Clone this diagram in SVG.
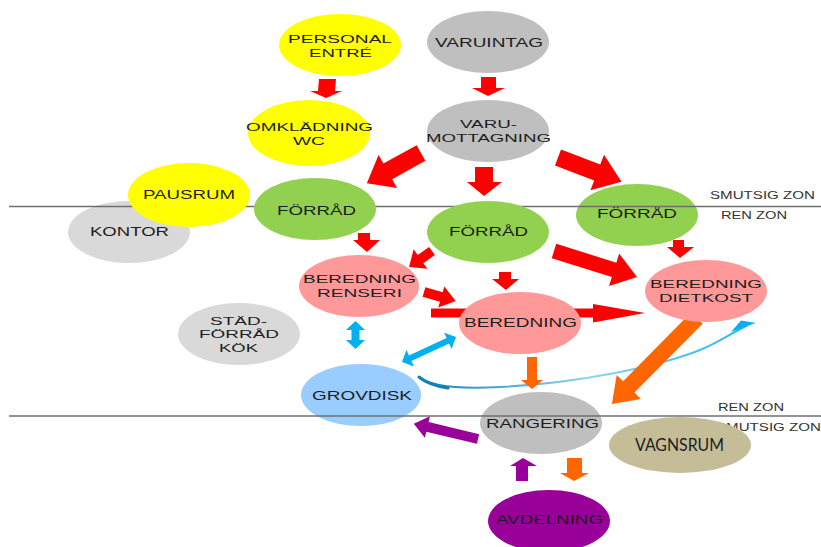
<svg xmlns="http://www.w3.org/2000/svg" width="821" height="547" viewBox="0 0 821 547">
<style>
.n text{font-family:"Liberation Sans",Arial,sans-serif;font-size:13px;fill:#1e1e1e;text-anchor:middle}
.n text.m{font-size:11.5px}
.z{font-family:"Liberation Sans",Arial,sans-serif;font-size:10px;fill:#333}
.red{fill:#FF0000}.org{fill:#FF6600}.blu{fill:#00B0F0}.pur{fill:#990099}
.yel{fill:#FFFF00}.gry{fill:#BFBFBF}.lgr{fill:#D9D9D9}.grn{fill:#92D050}.pnk{fill:#FF9999}.lbl{fill:#99CCFF}
.zl{stroke:#6f6f6f;stroke-width:1.6}
</style>
<defs>
<linearGradient id="cg" gradientUnits="userSpaceOnUse" x1="419" y1="380" x2="750" y2="325">
<stop offset="0" stop-color="#1580B5"/>
<stop offset="0.5" stop-color="#8FD3F2"/>
<stop offset="1" stop-color="#2AB4EE"/>
</linearGradient>
</defs>
<g id="connectors">
<polygon class="red" points="319,79 336,79 335,91 342,91 326,98 310,91 318,91"/>
<polygon class="red" points="481,77 496,77 496,88 505,88 488,96 472,88 481,88"/>
<polygon class="red" transform="translate(421,153) rotate(150.9)" points="0,-9 38,-9 38,-19 62,0 38,19 38,9 0,9"/>
<polygon class="red" points="475,167 493,167 493,182 502,182 484,196 467,182 475,182"/>
<polygon class="red" transform="translate(558,157.5) rotate(20.9)" points="0,-8.5 42,-8.5 42,-19 68,0 42,19 42,8.5 0,8.5"/>
<polygon class="red" points="358,233 370,233 370,240 380,240 367,252 353,240 358,240"/>
<polygon class="red" transform="translate(432,251) rotate(145)" points="0,-5 14,-5 14,-12 28,0 14,12 14,5 0,5"/>
<polygon class="red" points="499,272 511,272 511,279 519,279 506,290 492,279 499,279"/>
<polygon class="red" transform="translate(554,251) rotate(17.4)" points="0,-7.5 63,-7.5 63,-17 87,0 63,17 63,7.5 0,7.5"/>
<polygon class="red" points="673,240 684,240 684,247 694,247 680,258 667,247 673,247"/>
<polygon class="red" transform="translate(424,292) rotate(16)" points="0,-5 18,-5 18,-11 33,0 18,11 18,5 0,5"/>
<polygon class="red" points="431,308.5 593,308.5 593,304 645,313 593,322.5 593,317.5 431,317.5"/>
<polygon class="blu" points="355.5,321 365,330 359.5,330 359.5,340 365,340 355.5,349 346,340 351.5,340 351.5,330 346,330"/>
<polygon class="blu" transform="translate(402,362) rotate(-24.8)" points="0,0 9,-9 9,-3 50.5,-3 50.5,-9 59.5,0 50.5,9 50.5,3 9,3 9,9"/>
<path d="M419,377 C430,387 460,389 500,387 C580,383 660,366 700,350 C720,342 735,331 748,325" fill="none" stroke="url(#cg)" stroke-width="2"/>
<path d="M419,377 C426,383 436,386 448,388" fill="none" stroke="#1580B5" stroke-width="3" stroke-linecap="round"/>
<polygon class="blu" points="756,323 741,320.5 731,332 744,327"/>
<polygon class="org" points="527,357 537,357 537,380 543,380 532,389 521,380 527,380"/>
<polygon class="org" transform="translate(697,318) rotate(134.7)" points="0,-8 97,-8 97,-17 121,0 97,17 97,8 0,8"/>
<polygon class="pur" transform="translate(478,439) rotate(193.4)" points="0,-5 52,-5 52,-11 66,0 52,11 52,5 0,5"/>
<polygon class="pur" points="516,481 528,481 528,466 537,466 523,458 510,466 516,466"/>
<polygon class="org" points="567,458 582,458 582,473 589,473 574,481 560,473 567,473"/>
</g>
<g id="kontor" class="n"><ellipse class="lgr" cx="129" cy="232" rx="61" ry="31"/><text x="129.5" y="236" textLength="79" lengthAdjust="spacingAndGlyphs">KONTOR</text></g>
<g id="forrad-right" class="n"><ellipse class="grn" cx="637" cy="215" rx="61" ry="31"/><text x="637" y="218" textLength="80" lengthAdjust="spacingAndGlyphs">FÖRRÅD</text></g>
<g id="grovdisk" class="n"><ellipse class="lbl" cx="361" cy="395" rx="60" ry="31"/><text x="362" y="400" textLength="100" lengthAdjust="spacingAndGlyphs">GROVDISK</text></g>
<g id="rangering" class="n"><ellipse class="gry" cx="541" cy="423" rx="61" ry="31"/><text x="542.5" y="428" textLength="113" lengthAdjust="spacingAndGlyphs">RANGERING</text></g>
<g id="zones">
<line class="zl" x1="9" y1="206.5" x2="821" y2="206.5"/>
<line class="zl" x1="9" y1="416" x2="821" y2="416"/>
<text class="z" x="710" y="199" textLength="105" lengthAdjust="spacingAndGlyphs">SMUTSIG  ZON</text>
<text class="z" x="721" y="219" textLength="66" lengthAdjust="spacingAndGlyphs">REN  ZON</text>
<text class="z" x="718" y="411" textLength="66" lengthAdjust="spacingAndGlyphs">REN  ZON</text>
<text class="z" x="716" y="431" textLength="105" lengthAdjust="spacingAndGlyphs">SMUTSIG  ZON</text>
</g>
<g id="personal-entre" class="n"><ellipse class="yel" cx="340" cy="45" rx="61" ry="31"/><text class="m" x="340" y="43" textLength="104" lengthAdjust="spacingAndGlyphs">PERSONAL</text><text class="m" x="340.5" y="56.5" textLength="63" lengthAdjust="spacingAndGlyphs">ENTRÉ</text></g>
<g id="varuintag" class="n"><ellipse class="gry" cx="488" cy="42" rx="61" ry="31"/><text x="489" y="47" textLength="108" lengthAdjust="spacingAndGlyphs">VARUINTAG</text></g>
<g id="omkladning" class="n"><ellipse class="yel" cx="309" cy="133" rx="61" ry="33"/><text class="m" x="309.5" y="131" textLength="127" lengthAdjust="spacingAndGlyphs">OMKLÄDNING</text><text class="m" x="309" y="144.5" textLength="32" lengthAdjust="spacingAndGlyphs">WC</text></g>
<g id="varumottagning" class="n"><ellipse class="gry" cx="488" cy="131" rx="61" ry="31"/><text class="m" x="488.5" y="128" textLength="57" lengthAdjust="spacingAndGlyphs">VARU-</text><text class="m" x="488.5" y="141.5" textLength="125" lengthAdjust="spacingAndGlyphs">MOTTAGNING</text></g>
<g id="pausrum" class="n"><ellipse class="yel" cx="189" cy="195" rx="61" ry="32"/><text x="189" y="199" textLength="92" lengthAdjust="spacingAndGlyphs">PAUSRUM</text></g>
<g id="forrad-left" class="n"><ellipse class="grn" cx="315" cy="209" rx="61" ry="31"/><text x="316.5" y="215" textLength="79" lengthAdjust="spacingAndGlyphs">FÖRRÅD</text></g>
<g id="forrad-mid" class="n"><ellipse class="grn" cx="488" cy="232" rx="61" ry="31"/><text x="488.5" y="236" textLength="79" lengthAdjust="spacingAndGlyphs">FÖRRÅD</text></g>
<g id="beredning-renseri" class="n"><ellipse class="pnk" cx="359" cy="286" rx="60" ry="31"/><text class="m" x="359.5" y="283" textLength="113" lengthAdjust="spacingAndGlyphs">BEREDNING</text><text class="m" x="359.5" y="296.5" textLength="85" lengthAdjust="spacingAndGlyphs">RENSERI</text></g>
<g id="beredning" class="n"><ellipse class="pnk" cx="520" cy="323" rx="61" ry="31"/><text x="520.5" y="327" textLength="113" lengthAdjust="spacingAndGlyphs">BEREDNING</text></g>
<g id="beredning-dietkost" class="n"><ellipse class="pnk" cx="706" cy="291" rx="61" ry="31"/><text class="m" x="706" y="288" textLength="112" lengthAdjust="spacingAndGlyphs">BEREDNING</text><text class="m" x="706" y="302" textLength="94" lengthAdjust="spacingAndGlyphs">DIETKOST</text></g>
<g id="stadforrad" class="n"><ellipse class="lgr" cx="239" cy="334" rx="61" ry="31"/><text class="m" x="238.5" y="324.5" textLength="57" lengthAdjust="spacingAndGlyphs">STÄD-</text><text class="m" x="239" y="338" textLength="80" lengthAdjust="spacingAndGlyphs">FÖRRÅD</text><text class="m" x="238.5" y="351.5" textLength="39" lengthAdjust="spacingAndGlyphs">KÖK</text></g>
<g id="vagnsrum"><ellipse fill="#C4BD97" cx="680" cy="445" rx="71" ry="28"/><text x="679.5" y="450.5" font-family="Lato,'Open Sans',sans-serif" font-size="17" fill="#1e1e1e" text-anchor="middle" textLength="89" lengthAdjust="spacingAndGlyphs">VAGNSRUM</text></g>
<g id="avdelning" class="n"><ellipse class="pur" cx="549" cy="521" rx="61" ry="31"/><text x="549.5" y="524" textLength="107" lengthAdjust="spacingAndGlyphs">AVDELNING</text></g>
</svg>
